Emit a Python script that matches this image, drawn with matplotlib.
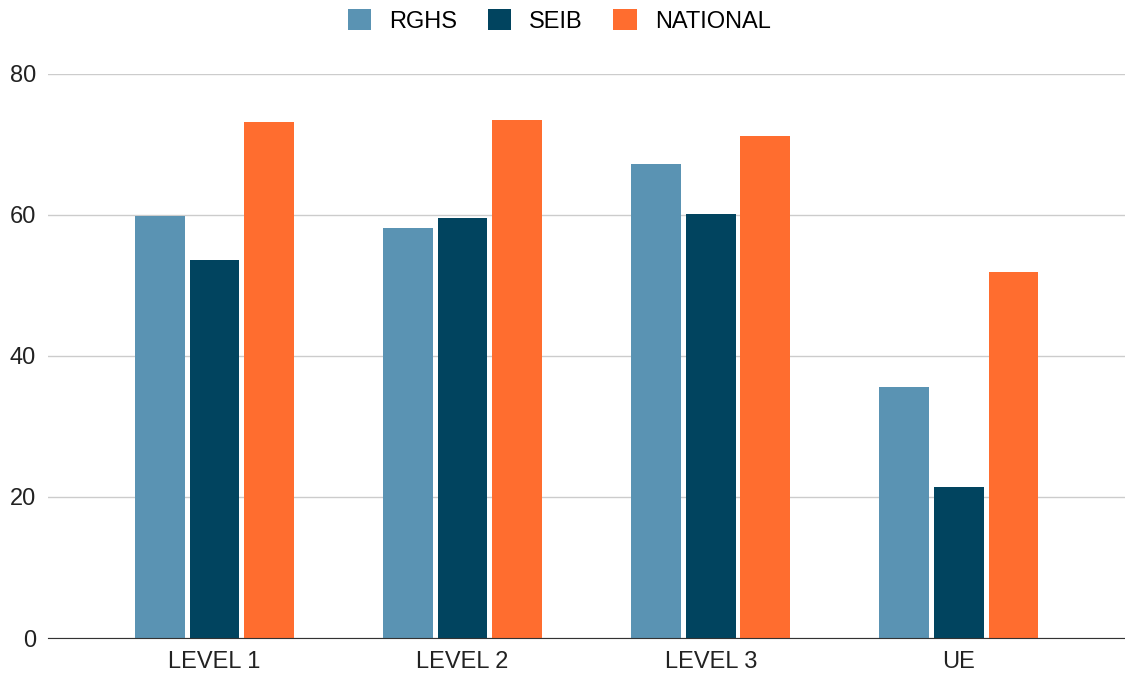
import numpy as np
import matplotlib
matplotlib.use("Agg")
import matplotlib.pyplot as plt

plt.rcParams['font.family'] = ['Liberation Sans', 'DejaVu Sans']

categories = ["LEVEL 1", "LEVEL 2", "LEVEL 3", "UE"]
series_names = ["RGHS", "SEIB", "NATIONAL"]
rghs = [59.9, 58.2, 67.2, 35.6]
seib = [53.6, 59.6, 60.1, 21.4]
national = [73.2, 73.5, 71.2, 51.9]
colors = ["#5a93b3", "#01445f", "#ff6d2f"]

fig = plt.figure(figsize=(11.25, 6.77), dpi=100)
ax = fig.add_axes([0.043, 0.0576, 0.957, 0.8334])

x = np.arange(len(categories))
width = 0.2
step = 0.22
for i, (vals, name, c) in enumerate(zip([rghs, seib, national], series_names, colors)):
    ax.bar(x + (i - 1) * step, vals, width, color=c, label=name, zorder=3)

ax.set_xlim(-0.67, 3.67)
ax.set_ylim(0, 80)
ax.set_yticks([0, 20, 40, 60, 80])
ax.set_xticks(x)
ax.set_xticklabels(categories)
ax.grid(axis='y', color='#cccccc', linewidth=1, zorder=0)
for s in ['top', 'right', 'left']:
    ax.spines[s].set_visible(False)
ax.spines['bottom'].set_color('#333333')
ax.spines['bottom'].set_zorder(4)
ax.tick_params(axis='both', length=0, labelsize=17, colors='#222222')
ax.tick_params(axis='y', pad=9)
ax.tick_params(axis='x', pad=9)

fig.legend(loc='upper center', bbox_to_anchor=(0.497, 1.018), ncol=3, frameon=False,
           fontsize=17, handlelength=1.0, handleheight=1.0, columnspacing=1.3,
           handletextpad=0.75)

fig.savefig("out.png", dpi=100)
